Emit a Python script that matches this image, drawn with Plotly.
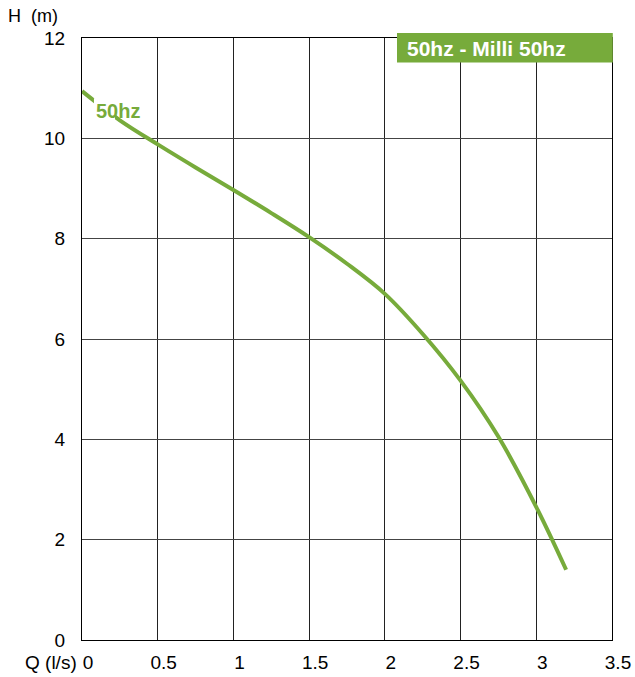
import plotly.graph_objects as go

q_values = [0.0, 0.25, 0.5, 0.75, 1.0, 1.25, 1.5, 1.75, 2.0, 2.25, 2.5, 2.75, 3.0, 3.197]
h_values = [10.94, 10.36, 9.88, 9.42, 8.97, 8.51, 8.03, 7.50, 6.90, 6.10, 5.17, 4.05, 2.65, 1.40]
x_ticks = [0, 0.5, 1, 1.5, 2, 2.5, 3, 3.5]
x_tick_labels = ["0", "0.5", "1", "1.5", "2", "2.5", "3", "3.5"]
y_ticks = [0, 2, 4, 6, 8, 10, 12]
y_tick_labels = ["0", "2", "4", "6", "8", "10", "12"]
series_name = "50hz"
title_text = "50hz - Milli 50hz"

green = "#77AB3B"
font = "Liberation Sans, Arial, sans-serif"

fig = go.Figure()
fig.add_trace(go.Scatter(x=q_values, y=h_values, mode="lines",
                         line=dict(color=green, width=4, shape="spline", smoothing=1.0),
                         hoverinfo="skip", showlegend=False))

fig.update_layout(
    width=635, height=677,
    margin=dict(l=82, r=23, t=38, b=37, autoexpand=False),
    paper_bgcolor="white", plot_bgcolor="white",
    font=dict(family=font, size=19, color="black"),
    xaxis=dict(range=[0, 3.5], tickvals=x_ticks, ticktext=x_tick_labels,
               showgrid=True, gridcolor="#222", gridwidth=1,
               showline=True, linecolor="black", linewidth=1.3, mirror=True,
               zeroline=False, ticks="", ticklabelshift=6, ticklabelstandoff=5,
               automargin=False, tickfont=dict(size=19)),
    yaxis=dict(range=[0, 12], tickvals=y_ticks, ticktext=y_tick_labels,
               showgrid=True, gridcolor="#444", gridwidth=1,
               showline=True, linecolor="black", linewidth=1.3, mirror=True,
               zeroline=False, ticks="", ticklabelstandoff=12,
               automargin=False, tickfont=dict(size=19)),
)

fig.add_annotation(x=0, y=1.0, xref="paper", yref="paper", xanchor="left", yanchor="bottom",
                   text="H  (m)", showarrow=False, font=dict(size=18, color="black"),
                   xshift=-76, yshift=10)
fig.add_annotation(x=0, y=0, xref="paper", yref="paper", xanchor="right", yanchor="middle",
                   text="Q (l/s)", showarrow=False, font=dict(size=19, color="black"),
                   xshift=-3, yshift=-22)
# white patch behind the series label (partially hides the curve like the reference)
fig.add_shape(type="rect", xref="x", yref="y", x0=0.079, x1=0.218, y0=10.32, y1=10.80,
              fillcolor="white", line=dict(width=0), layer="above")
fig.add_annotation(x=(94 - 82) / 151.43, y=(640 - 111) / 50.17, xref="x", yref="y",
                   xanchor="left", yanchor="middle",
                   text="<b>" + series_name + "</b>", showarrow=False,
                   font=dict(size=20, color=green))
fig.add_shape(type="rect", xref="paper", yref="paper", x0=(397 - 82) / 530, x1=1.0015,
              y0=(640 - 62.5) / 602, y1=(640 - 33) / 602, fillcolor=green, line=dict(width=0),
              layer="above")
fig.add_annotation(x=(405 - 82) / 530, y=(640 - 48.5) / 602, xref="paper", yref="paper",
                   xanchor="left", yanchor="middle", text="<b>" + title_text + "</b>",
                   showarrow=False, font=dict(size=21, color="white"))

fig.write_html("out.html", config={"displayModeBar": False},
               post_script="document.body.style.margin='0';")
